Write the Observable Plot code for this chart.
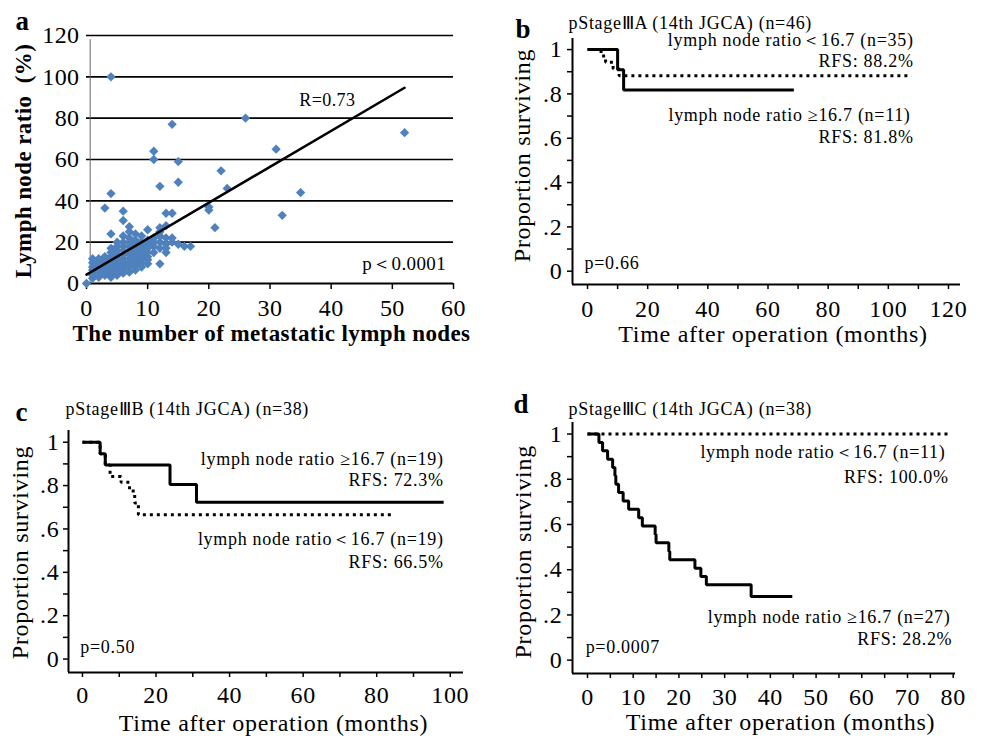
<!DOCTYPE html>
<html><head><meta charset="utf-8">
<script src="https://cdn.jsdelivr.net/npm/d3@7"></script>
<script src="https://cdn.jsdelivr.net/npm/@observablehq/plot@0.6"></script>
<style>
body{margin:0;background:#fff;}
#fig{position:relative;width:984px;height:741px;overflow:hidden;background:#fff;}
</style></head><body><div id="fig"></div>
<script>
// ---------- Panel a: scatter ----------
const nodesX = [
  0,
  1,1,1,1,1,1,1,
  2,2,2,2,2,2,2,
  3,3,3,3,3,3,3,3,
  4,4,4,4,4,4,4,4,4,4,4,4,
  5,5,5,5,5,5,5,5,5,5,
  6,6,6,6,6,6,6,6,6,6,6,6,
  7,7,7,7,7,7,7,7,7,7,7,
  8,8,8,8,8,8,8,8,8,
  9,9,9,9,9,9,9,9,
  10,10,10,10,10,10,10,10,
  11,11,11,11,11,11,
  12,12,12,12,12,12,12,
  13,13,13,13,13,13,
  14,14,14,14,
  15,15,15,
  16,17,20,20,21,22,23,26,31,32,35,52
];
const ratioY = [
  0,
  2.5,4,5,6.5,8,10,12,
  3,4.5,6,7.5,9,10.5,12,
  4,5.5,7,8.5,10,11.5,13,36.5,
  3,5,6.5,8,9.5,11,13,15,17,24,43.5,100,
  4,6,8,9.5,11,12.5,14,16,18,20,
  5,7,9,10.5,12,14,16,18,20,23,30.5,35,
  5.5,8,10,12,14,16,18,20,22,25,27.5,
  6.5,9,11,13,15,17,19,21,24,
  8,10,12,14,16,18,20,23,
  9.5,11.5,13,15,17,19,21,26,
  15,18,20,22,60,64,
  9.5,17,20,23,25,27,47,
  15,17,19,22,28,34,
  20,22,34,77,
  19,49,59,
  18,18,35.5,37,27,54.5,46,80,65,33,44,73
];
const fitX = [0, 52];
const fitY = [4.3, 94.7];
const aTicksX = [0, 10, 20, 30, 40, 50, 60];
const aTicksY = [0, 20, 40, 60, 80, 100, 120];
const aGrid = [20, 40, 60, 80, 100, 120];

// ---------- Kaplan-Meier curves ----------
const kmYTicks = [0, 0.1, 0.2, 0.3, 0.4, 0.5, 0.6, 0.7, 0.8, 0.9, 1];
const kmYLabelVals = [0, 0.2, 0.4, 0.6, 0.8, 1];
const kmYLabelText = ["0", ".2", ".4", ".6", ".8", "1"];

// b: pStage IIIA
const bLowT = [0, 4.5, 6, 8.5, 10.5, 107.7];
const bLowS = [1, 0.971, 0.943, 0.914, 0.882, 0.882];
const bHighT = [0, 10, 12, 68.6];
const bHighS = [1, 0.909, 0.818, 0.818];
const bTicksX = [0, 10, 20, 30, 40, 50, 60, 70, 80, 90, 100, 110, 120];
const bLabelsX = [0, 20, 40, 60, 80, 100, 120];

// c: pStage IIIB
const cHighT = [0, 4.8, 6.2, 23.8, 31, 98.2];
const cHighS = [1, 0.947, 0.895, 0.805, 0.723, 0.723];
const cLowT = [0, 4.8, 6.2, 7.5, 10.5, 12.8, 14.2, 15.2, 84];
const cLowS = [1, 0.947, 0.895, 0.842, 0.815, 0.775, 0.72, 0.665, 0.665];
const cTicksX = [0, 10, 20, 30, 40, 50, 60, 70, 80, 90, 100];
const cLabelsX = [0, 20, 40, 60, 80, 100];

// d: pStage IIIC
const dLowT = [0, 79];
const dLowS = [1, 1];
const dHighT = [0, 2.5, 3.3, 4.4, 5.5, 6.0, 6.2, 6.8, 7.8, 9.0, 11.2, 12, 14.8, 15, 17.8, 18, 23.5, 24.8, 26, 35.8, 44.8];
const dHighS = [1, 0.963, 0.926, 0.889, 0.852, 0.815, 0.778, 0.741, 0.704, 0.667, 0.630, 0.593, 0.556, 0.519, 0.481, 0.444, 0.407, 0.370, 0.333, 0.282, 0.282];
const dTicksX = [0, 5, 10, 15, 20, 25, 30, 35, 40, 45, 50, 55, 60, 65, 70, 75, 80];
const dLabelsX = [0, 10, 20, 30, 40, 50, 60, 70, 80];

// Texts
const aText = {letter: "a", xTitle: "The number of metastatic lymph nodes", yTitle: "Lymph node ratio  (%)", r: "R=0.73", p: "p＜0.0001"};
const bText = {letter: "b", title: "pStageⅢA (14th JGCA) (n=46)", low: "lymph node ratio＜16.7 (n=35)", lowRFS: "RFS: 88.2%", high: "lymph node ratio ≥16.7 (n=11)", highRFS: "RFS: 81.8%", p: "p=0.66"};
const cText = {letter: "c", title: "pStageⅢB (14th JGCA) (n=38)", low: "lymph node ratio＜16.7 (n=19)", lowRFS: "RFS: 66.5%", high: "lymph node ratio ≥16.7 (n=19)", highRFS: "RFS: 72.3%", p: "p=0.50"};
const dText = {letter: "d", title: "pStageⅢC (14th JGCA) (n=38)", low: "lymph node ratio＜16.7 (n=11)", lowRFS: "RFS: 100.0%", high: "lymph node ratio ≥16.7 (n=27)", highRFS: "RFS: 28.2%", p: "p=0.0007"};
const kmXTitle = "Time after operation (months)";
const kmYTitle = "Proportion surviving";

const FONT = "'Liberation Serif', 'Times New Roman', serif";
const fig = document.getElementById("fig");
function place(el, left, top) {
  el.style.position = "absolute";
  el.style.left = left + "px";
  el.style.top = top + "px";
  fig.appendChild(el);
}
const steps = (T, S) => T.map((t, i) => ({t, s: S[i]}));
const kmYFormat = d => {
  const i = kmYLabelVals.findIndex(v => Math.abs(v - d) < 1e-9);
  return i < 0 ? "" : kmYLabelText[i];
};
const txt = (s, o) => Plot.text([s], {text: d => d, ...o});

// ---------- Panel a ----------
const pts = nodesX.map((x, i) => ({x, y: ratioY[i]}));
const fit = fitX.map((x, i) => ({x, y: fitY[i]}));
const plotA = Plot.plot({
  width: 480, height: 370,
  marginLeft: 86, marginRight: 27, marginTop: 35, marginBottom: 87,
  x: {domain: [0, 60]},
  y: {domain: [0, 120]},
  style: {fontFamily: FONT, fontSize: "24px", letterSpacing: "0.4px", color: "black", background: "white", overflow: "visible"},
  marks: [
    Plot.ruleY(aGrid, {stroke: "black", strokeWidth: 1.6}),
    Plot.ruleX([0.6], {y1: 0, y2: 118, stroke: "#666", strokeWidth: 1}),
    Plot.ruleY([0], {stroke: "black", strokeWidth: 2}),
    Plot.axisX({ticks: aTicksX, tickSize: 6, tickPadding: 9, label: null, fontSize: 24, strokeWidth: 1.5}),
    Plot.axisY({ticks: aTicksY, tickSize: 0, tickPadding: 7, label: null, fontSize: 24}),
    Plot.dot(pts, {x: "x", y: "y", symbol: "diamond2", r: 4.2, fill: "#4f81bd", stroke: "none"}),
    Plot.line(fit, {x: "x", y: "y", stroke: "black", strokeWidth: 2.5}),
    Plot.text([aText.r], {text: d => d, x: 34.8, y: 88.7, textAnchor: "start", fontSize: 18}),
    Plot.text([aText.p], {text: d => d, x: 58.8, y: 9.4, textAnchor: "end", fontSize: 19}),
    txt(aText.letter, {frameAnchor: "top-left", dx: -71, dy: -25, textAnchor: "start", fontSize: 27, fontWeight: "bold"}),
    txt(aText.xTitle, {frameAnchor: "bottom", dx: 1.5, dy: 57, textAnchor: "middle", fontSize: 23, fontWeight: "bold"}),
    txt(aText.yTitle, {frameAnchor: "left", dx: -63, dy: 1.5, textAnchor: "middle", rotate: -90, fontSize: 23, fontWeight: "bold"})
  ]
});
place(plotA, 0, 0);

// ---------- KM panel builder ----------
function km(cfg) {
  return Plot.plot({
    width: cfg.width, height: cfg.height,
    marginLeft: cfg.ml, marginRight: cfg.mr, marginTop: cfg.mt, marginBottom: cfg.mb,
    x: {domain: cfg.xd},
    y: {domain: cfg.yd},
    style: {fontFamily: FONT, fontSize: "24px", letterSpacing: "0.7px", color: "black", background: "white", overflow: "visible"},
    marks: [
      Plot.ruleX([cfg.xd[0]], {y1: cfg.yd[0], y2: cfg.yd[1], stroke: "black", strokeWidth: 2}),
      Plot.ruleY([cfg.yd[0]], {x1: cfg.xd[0], x2: cfg.xd[1], stroke: "black", strokeWidth: 2}),
      Plot.axisX({ticks: cfg.ticksX, tickFormat: d => cfg.labelsX.includes(d) ? String(d) : "", tickSize: 5, tickPadding: cfg.xpad, label: null, fontSize: 24, strokeWidth: 1.5}),
      Plot.axisY({ticks: kmYTicks, tickFormat: kmYFormat, tickSize: 5, tickPadding: cfg.ypad, label: null, fontSize: 24, strokeWidth: 1.5}),
      Plot.line(cfg.dotted, {x: "t", y: "s", curve: "step-after", stroke: "black", strokeWidth: 3, strokeDasharray: "3,4", strokeLinecap: "butt", strokeLinejoin: "miter"}),
      Plot.line(cfg.solid, {x: "t", y: "s", curve: "step-after", stroke: "black", strokeWidth: 3, strokeLinecap: "butt", strokeLinejoin: "miter"}),
      ...cfg.labels.map(l => Plot.text([l.s], {text: d => d, x: l.x, y: l.y, textAnchor: l.a, fontSize: 18})),
      txt(cfg.text.letter, {frameAnchor: "top-left", dx: cfg.letter[0], dy: cfg.letter[1], textAnchor: "start", fontSize: 27, fontWeight: "bold"}),
      txt(cfg.text.title, {frameAnchor: "top-left", dx: cfg.title[0], dy: cfg.title[1], textAnchor: "start", fontSize: 18}),
      txt(kmXTitle, {frameAnchor: "bottom", dx: cfg.xt[0], dy: cfg.xt[1], textAnchor: "middle", fontSize: 24}),
      txt(kmYTitle, {frameAnchor: "left", dx: cfg.yt[0], dy: cfg.yt[1], textAnchor: "middle", rotate: -90, fontSize: 24})
    ]
  });
}

const plotB = km({
  width: 504, height: 370, ml: 92, mr: 24, mt: 38, mb: 86,
  xd: [-5, 124], yd: [-0.06, 1.05], ticksX: bTicksX, labelsX: bLabelsX, xpad: 10, ypad: 5,
  dotted: steps(bLowT, bLowS), solid: steps(bHighT, bHighS), text: bText,
  labels: [
    {s: bText.low, x: 108.4, y: 1.04, a: "end"},
    {s: bText.lowRFS, x: 108.4, y: 0.946, a: "end"},
    {s: bText.high, x: 107.4, y: 0.703, a: "end"},
    {s: bText.highRFS, x: 108.4, y: 0.605, a: "end"},
    {s: bText.p, x: -1, y: 0.035, a: "start"}
  ],
  letter: [-57, -20], title: [-4, -22], xt: [6.5, 57.5], yt: [-50.3, -6]
});
place(plotB, 480, 0);

const plotC = km({
  width: 480, height: 371, ml: 68, mr: 17, mt: 60, mb: 69,
  xd: [-3.8, 103.6], yd: [-0.062, 1.054], ticksX: cTicksX, labelsX: cLabelsX, xpad: 8, ypad: 4,
  dotted: steps(cLowT, cLowS), solid: steps(cHighT, cHighS), text: cText,
  labels: [
    {s: cText.high, x: 98.2, y: 0.922, a: "end"},
    {s: cText.highRFS, x: 98.2, y: 0.826, a: "end"},
    {s: cText.low, x: 98.2, y: 0.551, a: "end"},
    {s: cText.lowRFS, x: 98.2, y: 0.446, a: "end"},
    {s: cText.p, x: -0.6, y: 0.054, a: "start"}
  ],
  letter: [-53, -29], title: [-3, -28.3], xt: [7.5, 58], yt: [-48, 1]
});
place(plotC, 0, 370);

const plotD = km({
  width: 494, height: 371, ml: 82, mr: 29, mt: 52, mb: 68,
  xd: [-3.28, 80.5], yd: [-0.059, 1.051], ticksX: dTicksX, labelsX: dLabelsX, xpad: 9, ypad: 5,
  dotted: steps(dLowT, dLowS), solid: steps(dHighT, dHighS), text: dText,
  labels: [
    {s: dText.low, x: 78.3, y: 0.918, a: "end"},
    {s: dText.lowRFS, x: 79, y: 0.808, a: "end"},
    {s: dText.high, x: 79.4, y: 0.188, a: "end"},
    {s: dText.highRFS, x: 79.8, y: 0.093, a: "end"},
    {s: dText.p, x: -0.4, y: 0.056, a: "start"}
  ],
  letter: [-59, -28.4], title: [-4, -20], xt: [16.5, 56], yt: [-48.7, 3.8]
});
place(plotD, 490, 370);
</script></body></html>
